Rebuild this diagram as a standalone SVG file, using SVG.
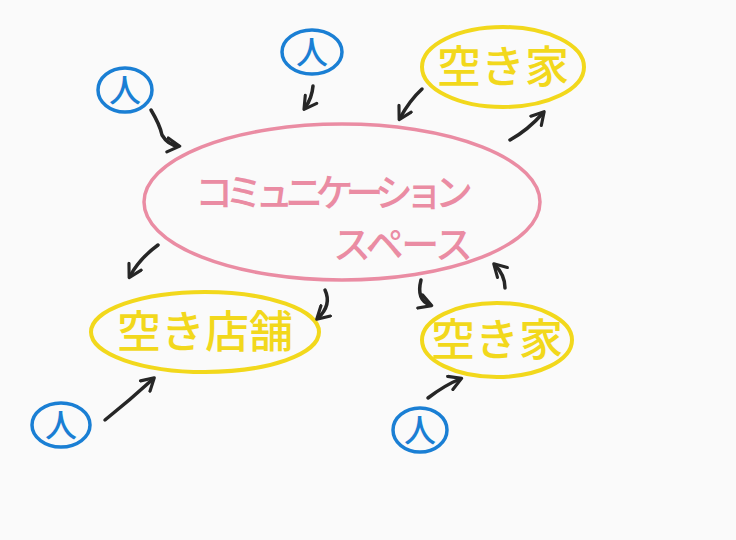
<svg xmlns="http://www.w3.org/2000/svg" width="736" height="540" viewBox="0 0 736 540">
<style>
.jp{font-family:"Noto Sans CJK JP","Noto Sans CJK SC",sans-serif;font-weight:500;}
.blue{fill:none;stroke:#1a7fd4;stroke-width:3.5;}
.bt{fill:#1a7fd4;font-size:32px;text-anchor:middle;}
.yel{fill:none;stroke:#f2d81c;stroke-width:4;}
.yt{fill:#f2d81c;font-size:44px;text-anchor:middle;}
.pink{fill:none;stroke:#ea8ca3;stroke-width:3.5;}
.pt{fill:#ea8ca3;font-size:38px;}
.arr{fill:none;stroke:#262626;stroke-width:3.5;stroke-linecap:round;stroke-linejoin:round;marker-end:url(#ah);}
</style>
<defs>
<marker id="ah" viewBox="0 0 10 10" refX="7" refY="5" markerWidth="5" markerHeight="5" orient="auto" markerUnits="strokeWidth">
<path d="M1,1 L8,5 L1,9" fill="none" stroke="#262626" stroke-width="1.8" stroke-linecap="round" stroke-linejoin="round"/>
</marker>
</defs>
<rect width="736" height="540" fill="#fafafa"/>

<g id="center">
<ellipse cx="342" cy="202" rx="198" ry="78" class="pink"/>
<text x="195" y="206" class="jp pt" textLength="278">コミュニケーション</text>
<text x="333" y="258" class="jp pt" textLength="140">スペース</text>
</g>

<g id="person1">
<ellipse cx="125" cy="90" rx="27" ry="22" class="blue"/>
<text x="125" y="102" class="jp bt">人</text>
</g>
<g id="person2">
<ellipse cx="312" cy="52" rx="30" ry="22" class="blue"/>
<text x="312" y="64" class="jp bt">人</text>
</g>
<g id="person3">
<ellipse cx="61" cy="425" rx="29" ry="22" class="blue"/>
<text x="61" y="437" class="jp bt">人</text>
</g>
<g id="person4">
<ellipse cx="420" cy="430" rx="27" ry="22" class="blue"/>
<text x="420" y="442" class="jp bt">人</text>
</g>

<g id="akiya1">
<ellipse cx="503" cy="67" rx="81" ry="40" class="yel"/>
<text x="503" y="83" class="jp yt">空き家</text>
</g>
<g id="akitenpo">
<ellipse cx="205" cy="332" rx="114" ry="40" class="yel"/>
<text x="205" y="348" class="jp yt">空き店舗</text>
</g>
<g id="akiya2">
<ellipse cx="497" cy="340" rx="75" ry="37" class="yel"/>
<text x="497" y="356" class="jp yt">空き家</text>
</g>

<g id="connectors">
<path class="arr" d="M151,110 Q160,125 162,135 Q168,145 178,146"/>
<path class="arr" d="M313,86 Q312,98 305,108"/>
<path class="arr" d="M422,89 Q410,100 400,118"/>
<path class="arr" d="M510,140 Q528,130 543,113"/>
<path class="arr" d="M158,245 Q140,258 130,276"/>
<path class="arr" d="M325,290 Q332,305 318,318"/>
<path class="arr" d="M421,280 Q416,300 430,305"/>
<path class="arr" d="M505,288 Q505,275 495,265"/>
<path class="arr" d="M105,420 Q130,400 153,379"/>
<path class="arr" d="M428,398 Q445,385 460,379"/>
</g>
</svg>
